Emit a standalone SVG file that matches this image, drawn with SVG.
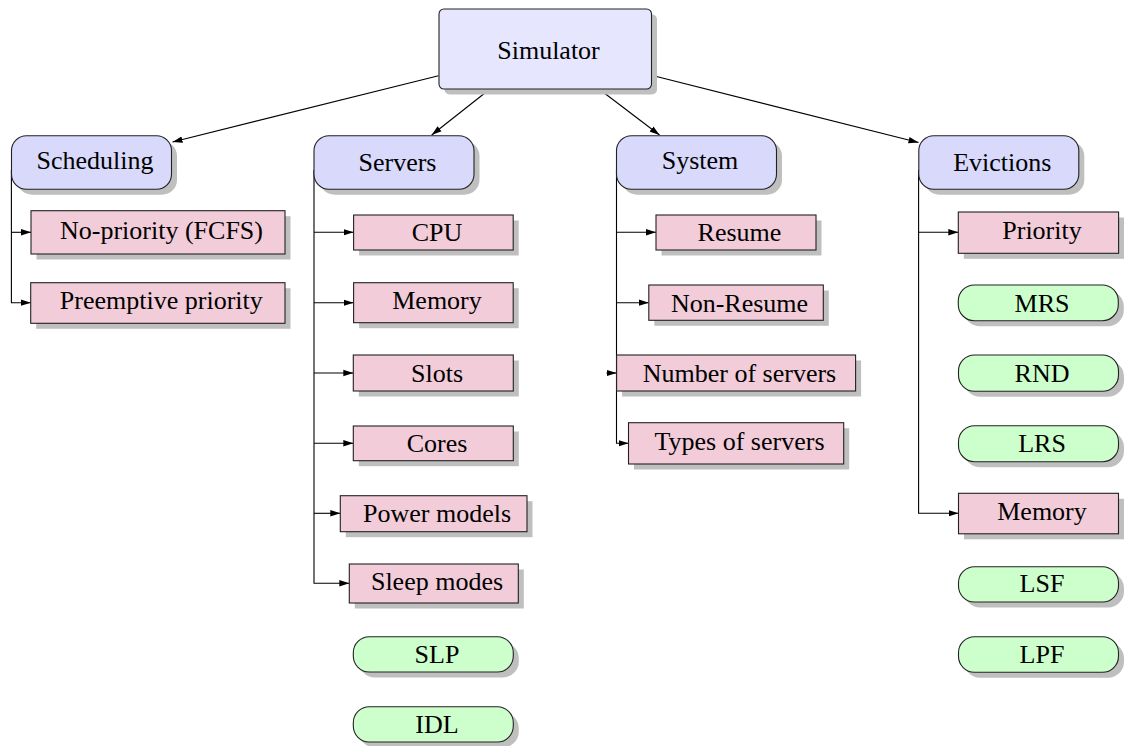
<svg xmlns="http://www.w3.org/2000/svg" width="1124" height="746" viewBox="0 0 1124 746">
<defs>
<style>
.bg{fill:#ffffff}
.sh{fill:#bfbfbf}
.root{fill:#e6e6fe;stroke:#222;stroke-width:1.1}
.top{fill:#d9d9fc;stroke:#222;stroke-width:1.1}
.pink{fill:#f2ccd9;stroke:#222;stroke-width:1.1}
.green{fill:#ccffcc;stroke:#222;stroke-width:1.1}
.ca{fill:none;stroke:#000;stroke-width:1.1;marker-end:url(#ah)}
</style>
<marker id="ah" markerUnits="userSpaceOnUse" markerWidth="11" markerHeight="8" refX="10" refY="4" orient="auto">
<path d="M0,0.8 L10,4 L0,7.2 Z" fill="#000"/>
</marker>
</defs>
<rect class="bg" x="0" y="0" width="1124" height="746"/>

<g id="connectors">
<path class="ca" d="M438.5,75.7 L172.5,142"/>
<path class="ca" d="M490,89 L431.7,135"/>
<path class="ca" d="M599,89 L659.5,135"/>
<path class="ca" d="M651.5,75.3 L918.5,142.5"/>
<path class="ca" d="M11.4,170 V302.7 H30.7"/>
<path class="ca" d="M11.4,232.3 H31"/>
<path class="ca" d="M314,170 V583.3 H349.3"/>
<path class="ca" d="M314,232.3 H353.6"/>
<path class="ca" d="M314,302.7 H353.6"/>
<path class="ca" d="M314,373 H353.3"/>
<path class="ca" d="M314,443.3 H353.3"/>
<path class="ca" d="M314,513.3 H340.3"/>
<path class="ca" d="M616.5,170 V443.3 H628.5"/>
<path class="ca" d="M616.5,232.3 H656"/>
<path class="ca" d="M616.5,302.7 H648.8"/>
<path class="ca" d="M606.5,373 H616.6"/>
<path class="ca" d="M918.6,170 V513.3 H958.5"/>
<path class="ca" d="M918.6,232.3 H958.3"/>
</g>

<g font-size="26" text-anchor="middle" fill="#000">
<g id="simulator">
<rect class="sh" x="444.5" y="14.5" width="212.5" height="80" rx="5"/>
<rect class="root" x="439" y="9" width="212.5" height="80" rx="5"/>
<text x="548.5" y="59" font-family="Liberation Serif">Simulator</text>
</g>
<g id="scheduling">
<rect class="sh" x="17" y="141.2" width="160" height="53.5" rx="15"/>
<rect class="top" x="11.5" y="135.7" width="160" height="53.5" rx="15"/>
<text x="95" y="169.2" font-family="Liberation Serif">Scheduling</text>
</g>
<g id="servers">
<rect class="sh" x="319.5" y="141.2" width="160" height="53.5" rx="15"/>
<rect class="top" x="314" y="135.7" width="160" height="53.5" rx="15"/>
<text x="397.5" y="171.4" font-family="Liberation Serif">Servers</text>
</g>
<g id="system">
<rect class="sh" x="622" y="141.2" width="160" height="53.5" rx="15"/>
<rect class="top" x="616.5" y="135.7" width="160" height="53.5" rx="15"/>
<text x="700" y="169" font-family="Liberation Serif">System</text>
</g>
<g id="evictions">
<rect class="sh" x="924.3" y="141.2" width="160" height="53.5" rx="15"/>
<rect class="top" x="918.8" y="135.7" width="160" height="53.5" rx="15"/>
<text x="1002.3" y="171.2" font-family="Liberation Serif">Evictions</text>
</g>
<g id="no-priority">
<rect class="sh" x="36.5" y="216.2" width="254" height="43.3"/>
<rect class="pink" x="31" y="210.7" width="254" height="43.3"/>
<text x="161.5" y="239" font-family="Liberation Serif">No-priority (FCFS)</text>
</g>
<g id="preemptive">
<rect class="sh" x="36.2" y="288.2" width="254.3" height="40.6"/>
<rect class="pink" x="30.7" y="282.7" width="254.3" height="40.6"/>
<text x="161.3" y="309.1" font-family="Liberation Serif">Preemptive priority</text>
</g>
<g id="cpu">
<rect class="sh" x="359.1" y="220.5" width="159.6" height="35"/>
<rect class="pink" x="353.6" y="215" width="159.6" height="35"/>
<text x="437" y="241.3" font-family="Liberation Serif">CPU</text>
</g>
<g id="memory-servers">
<rect class="sh" x="359.1" y="288.2" width="159.6" height="40"/>
<rect class="pink" x="353.6" y="282.7" width="159.6" height="40"/>
<text x="437" y="309.1" font-family="Liberation Serif">Memory</text>
</g>
<g id="slots">
<rect class="sh" x="358.8" y="360.5" width="160" height="36"/>
<rect class="pink" x="353.3" y="355" width="160" height="36"/>
<text x="437" y="382.1" font-family="Liberation Serif">Slots</text>
</g>
<g id="cores">
<rect class="sh" x="358.8" y="431.5" width="160" height="34.7"/>
<rect class="pink" x="353.3" y="426" width="160" height="34.7"/>
<text x="437" y="452.3" font-family="Liberation Serif">Cores</text>
</g>
<g id="power-models">
<rect class="sh" x="345.8" y="501.2" width="186.7" height="36"/>
<rect class="pink" x="340.3" y="495.7" width="186.7" height="36"/>
<text x="437" y="522.4" font-family="Liberation Serif">Power models</text>
</g>
<g id="sleep-modes">
<rect class="sh" x="354.8" y="569.5" width="169" height="39"/>
<rect class="pink" x="349.3" y="564" width="169" height="39"/>
<text x="437" y="589.8" font-family="Liberation Serif">Sleep modes</text>
</g>
<g id="slp">
<rect class="sh" x="358.8" y="642.2" width="160" height="35.3" rx="16"/>
<rect class="green" x="353.3" y="636.7" width="160" height="35.3" rx="16"/>
<text x="437" y="663.2" font-family="Liberation Serif">SLP</text>
</g>
<g id="idl">
<rect class="sh" x="358.8" y="712.2" width="160" height="35.3" rx="16"/>
<rect class="green" x="353.3" y="706.7" width="160" height="35.3" rx="16"/>
<text x="437" y="733.3" font-family="Liberation Serif">IDL</text>
</g>
<g id="resume">
<rect class="sh" x="661.5" y="220.5" width="160" height="35"/>
<rect class="pink" x="656" y="215" width="160" height="35"/>
<text x="739.5" y="241.3" font-family="Liberation Serif">Resume</text>
</g>
<g id="non-resume">
<rect class="sh" x="654.3" y="290.5" width="174.5" height="35.3"/>
<rect class="pink" x="648.8" y="285" width="174.5" height="35.3"/>
<text x="739.5" y="311.7" font-family="Liberation Serif">Non-Resume</text>
</g>
<g id="number-of-servers">
<rect class="sh" x="622.1" y="360.5" width="239" height="36"/>
<rect class="pink" x="616.6" y="355" width="239" height="36"/>
<text x="739.5" y="382.1" font-family="Liberation Serif">Number of servers</text>
</g>
<g id="types-of-servers">
<rect class="sh" x="634" y="428.2" width="215.2" height="41.3"/>
<rect class="pink" x="628.5" y="422.7" width="215.2" height="41.3"/>
<text x="739.5" y="449.8" font-family="Liberation Serif">Types of servers</text>
</g>
<g id="priority">
<rect class="sh" x="963.8" y="217.5" width="160.3" height="41.3"/>
<rect class="pink" x="958.3" y="212" width="160.3" height="41.3"/>
<text x="1042" y="238.7" font-family="Liberation Serif">Priority</text>
</g>
<g id="mrs">
<rect class="sh" x="963.8" y="290.5" width="160" height="35.7" rx="16"/>
<rect class="green" x="958.3" y="285" width="160" height="35.7" rx="16"/>
<text x="1042" y="311.8" font-family="Liberation Serif">MRS</text>
</g>
<g id="rnd">
<rect class="sh" x="964" y="360.5" width="160" height="36.3" rx="16"/>
<rect class="green" x="958.5" y="355" width="160" height="36.3" rx="16"/>
<text x="1042" y="382.1" font-family="Liberation Serif">RND</text>
</g>
<g id="lrs">
<rect class="sh" x="964" y="431.2" width="160" height="36" rx="16"/>
<rect class="green" x="958.5" y="425.7" width="160" height="36" rx="16"/>
<text x="1042" y="452.4" font-family="Liberation Serif">LRS</text>
</g>
<g id="memory-evictions">
<rect class="sh" x="964" y="498.8" width="160" height="40.5"/>
<rect class="pink" x="958.5" y="493.3" width="160" height="40.5"/>
<text x="1042" y="519.7" font-family="Liberation Serif">Memory</text>
</g>
<g id="lsf">
<rect class="sh" x="964" y="572.2" width="160" height="35.3" rx="16"/>
<rect class="green" x="958.5" y="566.7" width="160" height="35.3" rx="16"/>
<text x="1042" y="592.3" font-family="Liberation Serif">LSF</text>
</g>
<g id="lpf">
<rect class="sh" x="964" y="642.2" width="160" height="35.6" rx="16"/>
<rect class="green" x="958.5" y="636.7" width="160" height="35.6" rx="16"/>
<text x="1042" y="663.2" font-family="Liberation Serif">LPF</text>
</g>
</g>
</svg>
